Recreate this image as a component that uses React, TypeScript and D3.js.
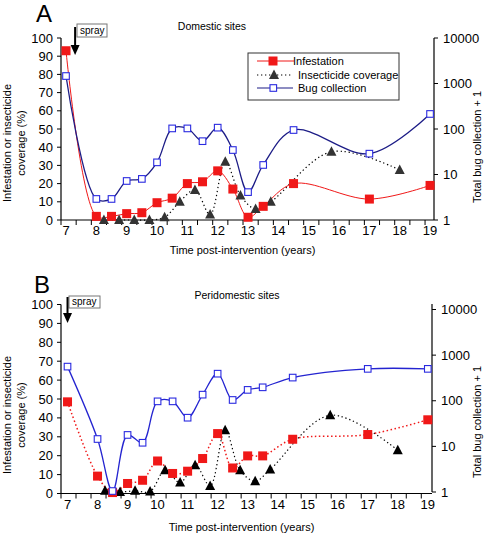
import React from "react";
import * as d3 from "d3";

// ---- Data (panel A: domestic sites) ----
const yearsA = [7, 8, 8.5, 9, 9.5, 10, 10.5, 11, 11.5, 12, 12.5, 13, 13.5, 14.5, 17, 19];
const infestationA = [93, 2, 2, 3.5, 4, 9.5, 12, 20, 21, 27, 17, 1.5, 7.5, 20, 11.5, 19];
const bugA = [1460, 2.9, 2.9, 7.2, 8, 18.5, 103, 103, 54, 107, 34.5, 4.1, 16.2, 95, 28.7, 214];
const covYearsA = [8.25, 8.75, 9.25, 9.75, 10.25, 10.75, 11.25, 11.75, 12.25, 12.75, 13.25, 13.75, 15.75, 18];
const coverageA = [0, 0, 0, 0, 1.5, 10, 16.5, 3, 32, 13.5, 6, 10, 37.5, 27.5];

// ---- Data (panel B: peridomestic sites) ----
const yearsB = [7, 8, 8.5, 9, 9.5, 10, 10.5, 11, 11.5, 12, 12.5, 13, 13.5, 14.5, 17, 19];
const infestationB = [48.5, 9.2, 0.5, 5.3, 7, 17.2, 10.6, 11.8, 18.5, 31.7, 13.5, 19.9, 19.9, 28.7, 31.2, 39];
const bugB = [560, 14.5, 1.05, 17.8, 12, 97, 97, 42.5, 136, 392, 104, 173, 197, 322, 500, 500];
const covYearsB = [8.25, 8.75, 9.25, 9.75, 10.25, 10.75, 11.25, 11.75, 12.25, 12.75, 13.25, 13.75, 15.75, 18];
const coverageB = [1.4, 0.8, 1.4, 1, 12.3, 5.8, 15, 4, 33.5, 12.3, 6.5, 12.7, 41.4, 22.9];

const xTickLabels = [7, 8, 9, 10, 11, 12, 13, 14, 15, 16, 17, 18, 19];
const leftTicks = [0, 10, 20, 30, 40, 50, 60, 70, 80, 90, 100];
const rightTicks = [1, 10, 100, 1000, 10000];
const legendLabels = ["Infestation", "Insecticide coverage", "Bug collection"];

const FONT = "'Liberation Sans', Arial, Helvetica, sans-serif";

type PanelProps = {
  letter: string;
  title: string;
  years: number[];
  inf: number[];
  bug: number[];
  covYears: number[];
  cov: number[];
  xRange: [number, number];
  xDomain: [number, number];
  yLeftRange: [number, number];
  yRightRange: [number, number];
  rightTop: number;
  letterPos: [number, number];
  titlePos: [number, number];
  sprayYear: number;
  sprayBox: [number, number, number, number];
  arrowY: [number, number];
  xTitleY: number;
  yTitleCenter: number;
  rTitleCenter: number;
  infDotted: boolean;
  blueLine: string;
  blueMarker: string;
  triColor: string;
  legend: boolean;
};

function Triangle({ x, y, color }: { x: number; y: number; color: string }) {
  const s = 5;
  return (
    <path
      d={`M${x},${y - s - 0.5} L${x + s},${y + s - 1} L${x - s},${y + s - 1} Z`}
      fill={color}
    />
  );
}

function Panel(p: PanelProps) {
  const x = d3.scaleLinear().domain(p.xDomain).range(p.xRange);
  const yL = d3.scaleLinear().domain([0, 100]).range(p.yLeftRange);
  const yR = d3.scaleLog().domain([1, 10000]).range(p.yRightRange);
  const curve = d3.curveCatmullRom.alpha(0.5);

  const infLine = d3
    .line<number>()
    .x((_, i) => x(p.years[i]))
    .y((d) => yL(d))
    .curve(curve)(p.inf);
  const bugLine = d3
    .line<number>()
    .x((_, i) => x(p.years[i]))
    .y((d) => yR(d))
    .curve(curve)(p.bug);
  const covLine = d3
    .line<number>()
    .x((_, i) => x(p.covYears[i]))
    .y((d) => yL(d))
    .curve(curve)(p.cov);

  const minorTicks = d3.range(0, 25).map((k) => p.xDomain[0] + k * 0.5);
  const x0 = p.xRange[0];
  const x1 = p.xRange[1];
  const yBase = p.yLeftRange[0];
  const red = "#f01818";
  const ax = x(p.sprayYear);

  return (
    <g fontFamily={FONT}>
      <text x={p.letterPos[0]} y={p.letterPos[1]} fontSize={24}>
        {p.letter}
      </text>
      <text x={p.titlePos[0]} y={p.titlePos[1]} fontSize={10.5} textAnchor="middle">
        {p.title}
      </text>

      {/* spray annotation */}
      <rect
        x={p.sprayBox[0]}
        y={p.sprayBox[1]}
        width={p.sprayBox[2]}
        height={p.sprayBox[3]}
        fill="white"
        stroke="#777"
        strokeWidth={1}
      />
      <text x={p.sprayBox[0] + 3} y={p.sprayBox[1] + p.sprayBox[3] - 3} fontSize={10}>
        spray
      </text>
      <line x1={ax} x2={ax} y1={p.arrowY[0]} y2={p.arrowY[1] - 8} stroke="black" strokeWidth={2} />
      <path
        d={`M${ax - 4.5},${p.arrowY[1] - 10} L${ax + 4.5},${p.arrowY[1] - 10} L${ax},${p.arrowY[1]} Z`}
        fill="black"
      />

      {/* axes */}
      <line x1={x0} x2={x1} y1={yBase} y2={yBase} stroke="black" strokeWidth={1.2} />
      {minorTicks.map((t, i) => (
        <line key={i} x1={x(t)} x2={x(t)} y1={yBase} y2={yBase + 5} stroke="black" strokeWidth={1} />
      ))}
      {xTickLabels.map((t) => (
        <text key={t} x={x(t)} y={yBase + 15} fontSize={13} textAnchor="middle">
          {t}
        </text>
      ))}
      <text x={(x0 + x1) / 2 - 5} y={p.xTitleY} fontSize={11} textAnchor="middle">
        Time post-intervention (years)
      </text>

      <line x1={x0} x2={x0} y1={p.yLeftRange[0]} y2={p.yLeftRange[1]} stroke="black" strokeWidth={1.2} />
      {leftTicks.map((t) => (
        <g key={t}>
          <line x1={x0 - 4} x2={x0} y1={yL(t)} y2={yL(t)} stroke="black" strokeWidth={1} />
          <text x={x0 - 8} y={yL(t) + 4.5} fontSize={13} textAnchor="end">
            {t}
          </text>
        </g>
      ))}
      <g transform={`translate(11,${p.yTitleCenter}) rotate(-90)`}>
        <text fontSize={11} textAnchor="middle">
          Infestation or insecticide
        </text>
      </g>
      <g transform={`translate(25,${p.yTitleCenter}) rotate(-90)`}>
        <text fontSize={11} textAnchor="middle">
          coverage (%)
        </text>
      </g>

      <line x1={x1} x2={x1} y1={p.yRightRange[0]} y2={p.rightTop} stroke="black" strokeWidth={1.2} />
      {rightTicks.map((t) => (
        <g key={t}>
          <line x1={x1} x2={x1 + 4} y1={yR(t)} y2={yR(t)} stroke="black" strokeWidth={1} />
          <text x={x1 + 9} y={yR(t) + 4.5} fontSize={13}>
            {t}
          </text>
        </g>
      ))}
      <g transform={`translate(481,${p.rTitleCenter}) rotate(-90)`}>
        <text fontSize={11} textAnchor="middle">
          Total bug collection + 1
        </text>
      </g>

      {/* series lines */}
      <path d={covLine || ""} fill="none" stroke="black" strokeWidth={1.2} strokeDasharray="1.3 2.7" />
      <path
        d={infLine || ""}
        fill="none"
        stroke={red}
        strokeWidth={p.infDotted ? 1.5 : 1}
        strokeDasharray={p.infDotted ? "1.5 2.5" : undefined}
      />
      <path d={bugLine || ""} fill="none" stroke={p.blueLine} strokeWidth={1.3} />

      {/* markers */}
      {p.cov.map((v, i) => (
        <Triangle key={"c" + i} x={x(p.covYears[i])} y={yL(v)} color={p.triColor} />
      ))}
      {p.inf.map((v, i) => (
        <rect key={"r" + i} x={x(p.years[i]) - 4.5} y={yL(v) - 4.5} width={9} height={9} fill={red} />
      ))}
      {p.bug.map((v, i) => (
        <rect
          key={"b" + i}
          x={x(p.years[i]) - 3.3}
          y={yR(v) - 3.3}
          width={6.6}
          height={6.6}
          fill="white"
          stroke={p.blueMarker}
          strokeWidth={1.1}
        />
      ))}

      {p.legend && (
        <g>
          <rect x={248} y={53} width={151} height={47} fill="white" stroke="#333" strokeWidth={1} />
          <line x1={257} x2={294} y1={61} y2={61} stroke={red} strokeWidth={1} />
          <rect x={268.5} y={56.5} width={9} height={9} fill={red} />
          <text x={293} y={65} fontSize={11}>
            {legendLabels[0]}
          </text>
          <line x1={257} x2={293} y1={75} y2={75} stroke="black" strokeWidth={1.2} strokeDasharray="1.3 2.7" />
          <Triangle x={274} y={75} color={p.triColor} />
          <text x={298} y={79} fontSize={11}>
            {legendLabels[1]}
          </text>
          <line x1={257} x2={293} y1={88} y2={88} stroke={p.blueLine} strokeWidth={1.2} />
          <rect x={270} y={84.7} width={6.6} height={6.6} fill="white" stroke={p.blueMarker} strokeWidth={1.1} />
          <text x={298} y={92} fontSize={11}>
            {legendLabels[2]}
          </text>
        </g>
      )}
    </g>
  );
}

export default function App() {
  return (
    <svg width={486} height={534} style={{ position: "absolute", left: 0, top: 0, background: "white" }}>
      <rect width={486} height={534} fill="white" />
      <Panel
        letter="A"
        title="Domestic sites"
        years={yearsA}
        inf={infestationA}
        bug={bugA}
        covYears={covYearsA}
        cov={coverageA}
        xRange={[61, 434]}
        xDomain={[6.835, 19.13]}
        yLeftRange={[220, 38]}
        yRightRange={[220, 38]}
        rightTop={38}
        letterPos={[36, 22]}
        titlePos={[212, 30]}
        sprayYear={7.3}
        sprayBox={[77, 24, 30, 13]}
        arrowY={[27, 55]}
        xTitleY={254}
        yTitleCenter={143}
        rTitleCenter={147}
        infDotted={false}
        blueLine="#1c1c86"
        blueMarker="#2a2ae0"
        triColor="#333333"
        legend={true}
      />
      <Panel
        letter="B"
        title="Peridomestic sites"
        years={yearsB}
        inf={infestationB}
        bug={bugB}
        covYears={covYearsB}
        cov={coverageB}
        xRange={[61, 432]}
        xDomain={[6.783, 19.14]}
        yLeftRange={[493.5, 304.5]}
        yRightRange={[492, 309.5]}
        rightTop={304}
        letterPos={[34, 293]}
        titlePos={[237, 299]}
        sprayYear={7.0}
        sprayBox={[69, 296, 31, 12]}
        arrowY={[297, 323]}
        xTitleY={531}
        yTitleCenter={415}
        rTitleCenter={422}
        infDotted={true}
        blueLine="#2424d0"
        blueMarker="#2a2ae0"
        triColor="#000000"
        legend={false}
      />
    </svg>
  );
}
